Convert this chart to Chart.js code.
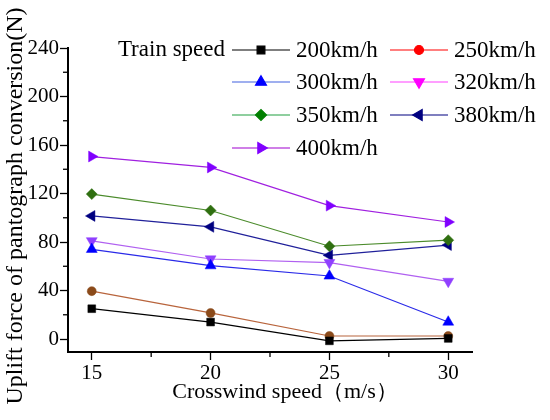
<!DOCTYPE html>
<html>
<head>
<meta charset="utf-8">
<script src="https://cdn.jsdelivr.net/npm/chart.js@4.4.1/dist/chart.umd.min.js"></script>
<style>
  html,body{margin:0;padding:0;background:#fff;}
  #wrap{width:550px;height:420px;}
</style>
</head>
<body>
<div id="wrap"><canvas id="c" width="550" height="420"></canvas></div>
<script>
// crosswind speeds (m/s)
const windSpeeds = [15, 20, 25, 30];
const trainSpeeds = ['200km/h','250km/h','300km/h','320km/h','350km/h','380km/h','400km/h'];
// uplift force of pantograph conversion (N)
const v200 = [25, 14, -1.5, 0.5];
const v250 = [39.5, 21.5, 2.5, 2.5];
const v300 = [74, 60.5, 52, 14];
const v320 = [81, 66, 63, 47.5];
const v350 = [119.5, 106, 76.5, 81.5];
const v380 = [101.5, 92.5, 69, 77.5];
const v400 = [150.5, 141.5, 110, 96.5];
const yTicks = [0, 40, 80, 120, 160, 200, 240];
const yMinor = [20, 60, 100, 140, 180, 220];
const xTicks = [15, 20, 25, 30];
const xMinor = [17.5, 22.5, 27.5];

const series = [v200, v250, v300, v320, v350, v380, v400];
const lineColors   = ['#000000','#b8643c','#2a2ae8','#b060f0','#4b8b2b','#20209a','#a020e0'];
const markColors   = ['#000000','#8b4a1a','#0000ff','#9040ff','#2f6f10','#000080','#8000ff'];
const legendLine   = ['#000000','#ff0000','#4060e0','#ff40ff','#20a040','#000080','#a000d0'];
const legendMark   = ['#000000','#ff0000','#0000ff','#ff00ff','#008000','#000080','#8000ff'];
const styles = ['rect','circle','triangle','triangle','rectRot','triangle','triangle'];
const rots   = [0, 0, 0, 180, 0, -90, 90];
const radii  = [5.5, 4.5, 6.3, 6.3, 5.5, 6.3, 6.3];

const FONT = '"Liberation Serif", "DejaVu Serif", serif';

const datasets = series.map((vals, i) => ({
  label: trainSpeeds[i],
  data: windSpeeds.map((x, j) => ({x, y: vals[j]})),
  borderColor: lineColors[i],
  backgroundColor: markColors[i],
  pointBorderColor: markColors[i],
  pointBackgroundColor: markColors[i],
  borderWidth: 1.2,
  pointStyle: styles[i],
  pointRotation: rots[i],
  pointRadius: radii[i],
  pointBorderWidth: 0.5,
  tension: 0
}));

function marker(ctx, i, x, y, color){
  const opts = {pointStyle: styles[i], rotation: rots[i], radius: radii[i], borderWidth: 0.5};
  ctx.save();
  ctx.fillStyle = color; ctx.strokeStyle = color;
  Chart.helpers.drawPoint(ctx, opts, x, y);
  ctx.restore();
}

const extras = {
  id: 'extras',
  afterDraw(chart){
    const ctx = chart.ctx, xs = chart.scales.x, ys = chart.scales.y;
    const {left, bottom} = chart.chartArea;
    ctx.save();
    // minor ticks
    ctx.strokeStyle = '#000'; ctx.lineWidth = 1.3;
    xMinor.forEach(v => { const px = xs.getPixelForValue(v); ctx.beginPath(); ctx.moveTo(px, bottom); ctx.lineTo(px, bottom + 5); ctx.stroke(); });
    yMinor.forEach(v => { const py = ys.getPixelForValue(v); ctx.beginPath(); ctx.moveTo(left, py); ctx.lineTo(left - 5, py); ctx.stroke(); });
    // axis titles
    ctx.fillStyle = '#000';
    ctx.font = '22px ' + FONT;
    ctx.textAlign = 'center'; ctx.textBaseline = 'middle';
    ctx.fillText('Crosswind speed（m/s）', 285, 392);
    ctx.save();
    ctx.translate(16, 206); ctx.rotate(-Math.PI/2);
    ctx.font = '24px ' + FONT;
    ctx.fillText('Uplift force of pantograph conversion(N)', 0, 0);
    ctx.restore();
    // legend
    ctx.font = '23px ' + FONT;
    ctx.textAlign = 'right';
    ctx.fillText('Train speed', 225, 50);
    ctx.textAlign = 'left';
    const rowsY = [50, 82, 115, 148];
    const colX = [232, 390];
    trainSpeeds.forEach((name, i) => {
      const x0 = colX[i % 2], y = rowsY[Math.floor(i / 2)];
      ctx.strokeStyle = legendLine[i]; ctx.lineWidth = 1.2;
      ctx.beginPath(); ctx.moveTo(x0, y); ctx.lineTo(x0 + 58, y); ctx.stroke();
      marker(ctx, i, x0 + 29, y, legendMark[i]);
      ctx.fillStyle = '#000';
      ctx.fillText(name, x0 + 64, y + 1);
    });
    ctx.restore();
  }
};

new Chart(document.getElementById('c'), {
  type: 'line',
  data: { datasets },
  plugins: [extras],
  options: {
    responsive: false,
    animation: false,
    layout: { padding: { left: 28, right: 78, top: 48, bottom: 28 } },
    plugins: { legend: { display: false }, tooltip: { enabled: false } },
    scales: {
      x: {
        type: 'linear', min: 14, max: 31,
        afterBuildTicks: s => { s.ticks = xTicks.map(v => ({value: v})); },
        afterFit: s => { s.height = 40; },
        border: { color: '#000', width: 2 },
        grid: { drawOnChartArea: false, drawTicks: true, tickLength: 8, tickWidth: 1.3, tickColor: '#000' },
        ticks: { color: '#000', padding: 1, maxRotation: 0, font: { family: FONT, size: 21 } }
      },
      y: {
        type: 'linear', min: -10.7, max: 240,
        afterBuildTicks: s => { s.ticks = yTicks.map(v => ({value: v})); },
        afterFit: s => { s.width = 40; },
        border: { color: '#000', width: 2 },
        grid: { drawOnChartArea: false, drawTicks: true, tickLength: 8, tickWidth: 1.3, tickColor: '#000' },
        ticks: { color: '#000', padding: 1, font: { family: FONT, size: 21 } }
      }
    }
  }
});
</script>
</body>
</html>
